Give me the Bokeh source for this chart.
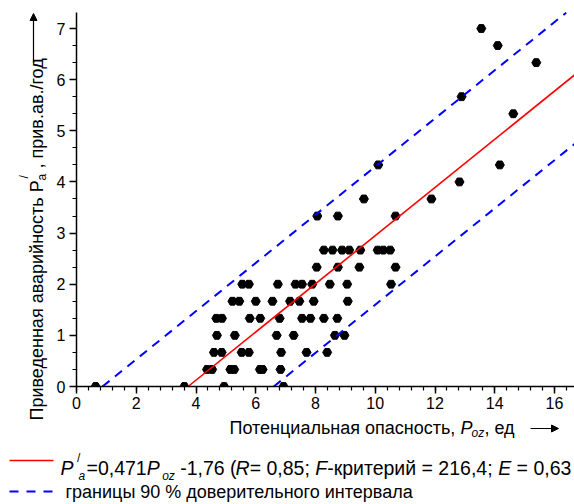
import math
from bokeh.plotting import figure
from bokeh.models import Range1d, FixedTicker, Label, Arrow, NormalHead
from bokeh.embed import file_html
from bokeh.resources import INLINE

# ---------------- data ----------------
potential = [0.64, 3.61, 4.94, 6.93,
             4.37, 4.54, 5.15, 5.28, 6.14, 6.23, 6.83,
             4.60, 4.86, 5.53, 5.77, 6.85, 7.70, 8.39,
             4.70, 5.30, 6.70, 7.27, 8.65, 8.97,
             4.68, 4.87, 5.80, 6.15, 6.80, 7.55, 7.83, 8.28, 8.73,
             5.22, 5.45, 6.00, 6.56, 7.15, 7.46, 7.94, 9.08,
             5.55, 5.77, 6.74, 7.33, 7.55, 7.89, 8.48, 9.06, 10.53,
             8.04, 8.75, 9.47, 10.68,
             8.28, 8.57, 8.89, 9.13, 9.50, 10.08, 10.27, 10.50,
             8.06, 8.75, 10.68,
             9.62, 11.88,
             12.82,
             10.10, 14.17,
             14.62,
             12.89,
             15.39,
             14.10,
             13.55]
accident = ([0.0] * 4 + [0.333] * 7 + [0.667] * 7 + [1.0] * 6 + [1.333] * 9 +
            [1.667] * 8 + [2.0] * 9 + [2.333] * 4 + [2.667] * 8 + [3.333] * 3 +
            [3.667] * 2 + [4.0] + [4.333] * 2 + [5.333] + [5.667] + [6.333] +
            [6.667] + [7.0])

slope = 0.471
intercept = -1.76
ci_half = 1.35

x_ticks = [0, 2, 4, 6, 8, 10, 12, 14, 16]
y_ticks = [0, 1, 2, 3, 4, 5, 6, 7]
x_axis_max = 16.67
y_axis_max = 7.31

# ---------------- geometry (canvas pixels) ----------------
W, H = 574, 504
PX0, PXU = 76.0, 29.875     # pixel of x=0, pixels per x unit
PY0, PYU = 386.0, 51.14     # pixel of y=0, pixels per y unit
FONT = "Liberation Sans"

XL, XR = -PX0 / PXU, (W - PX0) / PXU
YT, YB = PY0 / PYU, -(H - PY0) / PYU

p = figure(width=W, height=H, x_range=Range1d(XL, XR), y_range=Range1d(YB, YT),
           output_backend="svg", toolbar_location=None,
           min_border_left=0, min_border_right=0, min_border_top=0,
           min_border_bottom=0)
p.outline_line_color = None
p.xgrid.grid_line_color = None
p.ygrid.grid_line_color = None
p.background_fill_color = "white"
p.border_fill_color = "white"

p.xaxis.fixed_location = 0
p.yaxis.fixed_location = 0
p.xaxis.bounds = (0, x_axis_max)
p.yaxis.bounds = (0, y_axis_max)
p.xaxis.ticker = FixedTicker(ticks=x_ticks,
                             minor_ticks=[round(0.4 * k, 2) for k in range(0, 42)])
p.yaxis.ticker = FixedTicker(ticks=y_ticks,
                             minor_ticks=[round(k / 3, 4) for k in range(0, 22)])
for ax in (p.xaxis, p.yaxis):
    ax.axis_line_color = "black"
    ax.axis_line_width = 1.5
    ax.major_tick_line_color = "black"
    ax.major_tick_line_width = 1.5
    ax.minor_tick_line_color = "black"
    ax.minor_tick_line_width = 1.2
    ax.major_tick_in = 0
    ax.major_tick_out = 7
    ax.minor_tick_in = 0
    ax.minor_tick_out = 4
    ax.major_label_text_font = FONT
    ax.major_label_text_font_size = "16px"
    ax.major_label_text_color = "black"
p.xaxis.major_label_standoff = 3
p.yaxis.major_label_standoff = 4

# points
p.scatter(potential, accident, marker="hex", size=9, fill_color="black",
          line_color="black")
# white mask so that points on the zero line show only above the axis
p.quad(left=0, right=XR, bottom=-0.12, top=0, fill_color="white", line_color=None)


# regression and confidence lines, kept inside the axes box
def fit_line(offset):
    b = intercept + offset
    x0 = max(0.0, -b / slope)
    x1 = min(XR, (y_axis_max - b) / slope)
    xs = [x0, x1]
    return xs, [slope * v + b for v in xs]


xs, ys = fit_line(0.0)
p.line(xs, ys, line_color="#ff0000", line_width=1.6)
for off in (ci_half, -ci_half):
    xs, ys = fit_line(off)
    p.line(xs, ys, line_color="#0000ff", line_width=2, line_dash="9 7")


# ---------------- text helpers (canvas pixel -> data) ----------------
def dx(px):
    return (px - PX0) / PXU


def dy(py):
    return (PY0 - py) / PYU


def put(text, px, py, size=18, italic=False, angle=0.0):
    p.add_layout(Label(x=dx(px), y=dy(py), text=text, text_font=FONT,
                       text_font_size=f"{size}px",
                       text_font_style="italic" if italic else "normal",
                       text_baseline="alphabetic", text_align="left",
                       angle=angle, text_color="black"))


def seg(x0, y0, x1, y1, color="black", width=1.2, dash="solid", head=False):
    end = NormalHead(size=7, fill_color=color, line_color=color, line_width=1) if head else None
    p.add_layout(Arrow(x_start=dx(x0), y_start=dy(y0), x_end=dx(x1), y_end=dy(y1),
                       start=None, end=end, line_color=color, line_width=width,
                       line_dash=dash))


# approximate advance widths (em/1000) of Liberation Sans, for chaining text pieces
ADV = {" ": 278, "(": 333, ")": 333, ",": 278, "-": 333, ".": 278, "/": 278,
       ";": 278, "=": 584, "%": 889, "P": 667, "R": 722, "F": 611, "E": 667,
       "a": 556, "o": 556, "z": 500, "к": 438, "р": 556, "и": 559, "т": 458,
       "е": 556, "й": 559}


def width(text, size):
    return sum(ADV.get(c, 556) for c in text) * size / 1000.0


# x axis label
put("Потенциальная опасность,", 229, 427)
put("P", 460, 427, italic=True)
put("oz", 471, 432, size=12, italic=True)
put(", ед", 484, 427)
seg(530, 428, 558, 428, head=True)

# y axis label (rotated)
A = math.pi / 2
put("Приведенная аварийность P", 36, 420, angle=A)
put("a", 41, 180, size=12, angle=A)
put("/", 23, 178, size=12, angle=A)
put(", прив.ав./год", 36, 168, angle=A)
seg(33, 62, 33, 13, head=True)

# legend row 1 (pieces chained; spaces are added as offsets)
S1, B1 = 19.5, 467
seg(9, 460, 53, 460, color="#ff0000", width=1.6)
x = 60.0
put("P", x, B1, size=S1, italic=True)
put("/", x + 16.5, B1 - 10, size=12)
put("a", x + 18, B1 + 8, size=12, italic=True)
x = 86.0
for txt, it, sub, gap in [("=0,471", False, False, 0), ("P", True, False, 0),
                          ("oz", True, True, 2.5), ("-1,76 (", False, False, 5.4),
                          ("R", True, False, -1), ("= 0,85;", False, False, 0),
                          ("F", True, False, 5.4), ("-критерий = 216,4;", False, False, 0),
                          ("E", True, False, 5.4), ("= 0,63", False, False, 5.4)]:
    x += gap
    if sub:
        put(txt, x, B1 + 8, size=12, italic=True)
        x += width(txt, 12)
    else:
        put(txt, x, B1, size=S1, italic=it)
        x += width(txt, S1)

# legend row 2
seg(9, 491, 53, 491, color="#0000ff", width=2, dash="9 8")
put("границы 90 % доверительного интервала", 65, 491)

open("out.html", "w").write(file_html(p, INLINE))
